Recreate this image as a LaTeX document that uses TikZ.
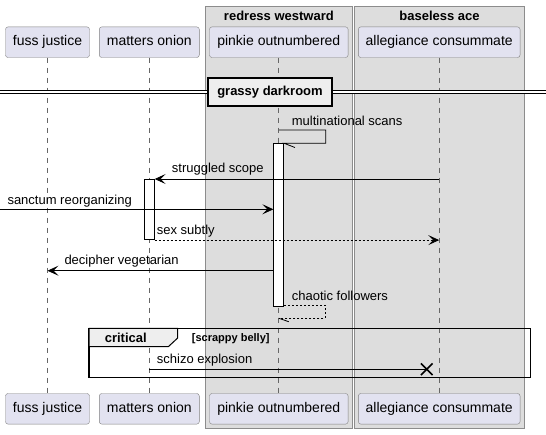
\documentclass[tikz,border=0pt]{standalone}
\usepackage{fontspec}
\setmainfont{Liberation Sans}
\usetikzlibrary{arrows.meta}

\definecolor{partfill}{HTML}{E2E2F0}
\definecolor{grpfill}{HTML}{DDDDDD}
\definecolor{tabfill}{HTML}{EEEEEE}

\tikzset{
  part/.style={draw=black!50, fill=partfill, rounded corners=2.5pt, minimum height=30.6pt,
    inner sep=0pt, text height=10pt, text depth=3pt, font=\fontsize{14}{16}\selectfont},
  life/.style={draw=black!60, line width=0.8pt, dash pattern=on 5pt off 5pt},
  grp/.style={fill=grpfill, draw=black!45, line width=0.8pt},
  grptitle/.style={inner sep=0pt, font=\fontsize{13}{15}\selectfont\bfseries},
  act/.style={draw=black, fill=white, line width=0.8pt, minimum width=10pt, inner sep=0pt},
  lbl/.style={anchor=west, inner sep=0pt, text height=9.5pt, text depth=2.8pt, font=\fontsize{13}{15}\selectfont},
  msg/.style={draw=black, line width=0.8pt, -{Stealth[length=11pt,width=10pt,inset=5pt]}},
  ret/.style={msg, dash pattern=on 2pt off 2pt},
}

\begin{document}
\begin{tikzpicture}[x=1pt,y=-1pt]
  \useasboundingbox (0,0) rectangle (546,434);
  % boxes
  {\path[grp] (205.5,6) rectangle (352.3,428.7);}
  {\path[grp] (354.3,6) rectangle (524.7,428.7);}
  \node[grptitle] (redress) at (278.9,15.5) {redress westward};
  \node[grptitle] (baseless) at (439.5,15.5) {baseless ace};

  % participants
  \foreach \nm/\x/\w/\txt in {fuss/47.5/84/fuss justice, onion/149.3/100/matters onion,
      pinkie/278.8/138.6/pinkie outnumbered, ace/439.2/161.7/allegiance consummate} {
    \node[part, minimum width=\w pt] (\nm-top) at (\x,42.2) {\txt};
    \node[part, minimum width=\w pt] (\nm-bot) at (\x,408.8) {\txt};
    \draw[life] (\nm-top) -- (\nm-bot);
  }

  % divider
  {\fill[white] (0,90) rectangle (546,93.7);}
  {\draw[line width=0.9pt] (0,90) -- (546,90) (0,93.7) -- (546,93.7);}
  \node[draw=black, line width=2pt, fill=tabfill, minimum width=123.4pt, minimum height=27.7pt,
    inner sep=0pt, font=\fontsize{13}{15}\selectfont\bfseries] (darkroom) at (270,92.2) {grassy darkroom};

  % activations
  \node[act, minimum height=162.7pt, anchor=north] (pinkieAct) at (pinkie-top.south |- 0,143.3) {};
  \node[act, minimum height=60.3pt, anchor=north] (onionAct) at (onion-top.south |- 0,179) {};

  % messages
  \coordinate (scanR) at (325.7,130);
  {\draw[line width=0.8pt] (pinkie-top.south |- scanR) -- (scanR) |- (pinkieAct.east |- 0,143.3) -- ++(10.7,4.2);}
  \node[lbl] (scans) at (291.7,121.7) {multinational scans};

  \draw[msg] (ace-top.south |- 0,179) -- (onionAct.east |- 0,179);
  \node[lbl] (scope) at (171.7,169.3) {struggled scope};

  \coordinate (lost) at (0,209.3);
  \draw[msg] (lost) -- (pinkieAct.west |- lost);
  \node[lbl] (sanctum) at (7.3,201) {sanctum reorganizing};

  \draw[ret] (onionAct.south east) -- (ace-top.south |- onionAct.south);
  \node[lbl] (subtly) at (156.7,231) {sex subtly};

  \draw[msg] (pinkieAct.west |- 0,270.7) -- (fuss-top.south |- 0,270.7);
  \node[lbl] (vegetarian) at (64.3,260.7) {decipher vegetarian};

  \coordinate (chaosR) at (325.3,305.3);
  {\draw[line width=0.8pt, dash pattern=on 2pt off 2pt] (pinkieAct.east |- chaosR) -- (chaosR) |- (pinkie-top.south |- 0,318.3);}
  {\draw[line width=0.8pt] (pinkie-top.south |- 0,318.3) -- ++(10,3.4);}
  \node[lbl] (followers) at (291.7,296.7) {chaotic followers};

  % critical
  {\draw[line width=1.6pt] (89,328.3) rectangle (530.3,377.5);}
  {\draw[line width=1pt, fill=tabfill] (89,328.3) -- (177.7,328.3) -- (177.7,338) -- (168.3,346.7) -- (89,346.7) -- cycle;}
  \node[grptitle] (critical) at (125.8,338) {critical};
  \node[lbl, font=\fontsize{11}{13}\selectfont\bfseries] (belly) at (191.7,338) {[scrappy belly]};

  \coordinate (boom) at (426.7,369.2);
  \draw[line width=0.8pt] (onion-top.south |- boom) -- (boom);
  {\draw[line width=1.6pt] (boom) ++(-5.8,-5.8) -- ++(11.6,11.6) (boom) ++(-5.8,5.8) -- ++(11.6,-11.6);}
  \node[lbl] (schizo) at (156.7,360) {schizo explosion};
\end{tikzpicture}
\end{document}
